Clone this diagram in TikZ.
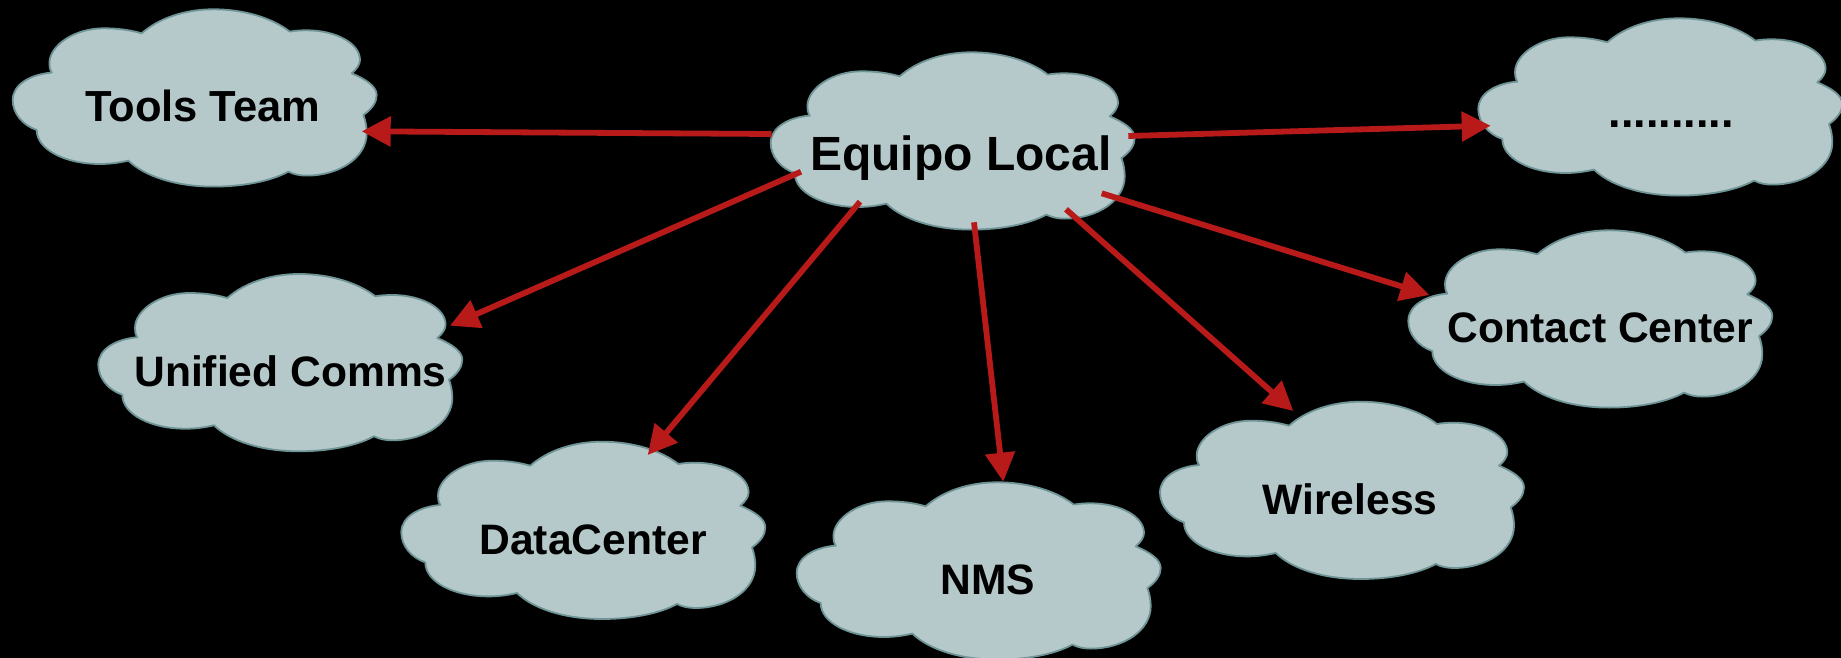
\documentclass[tikz,border=0pt]{standalone}
\usepackage{fontspec}
\setmainfont{Liberation Sans}
\usetikzlibrary{arrows.meta}
\definecolor{cloudfill}{HTML}{B5C8CA}
\definecolor{cloudline}{HTML}{6F9496}
\definecolor{linkred}{HTML}{B81A1A}
\tikzset{
  x=1pt,y=-1pt,
  cloudbody/.style={fill=cloudfill,draw=cloudline,line width=1.8pt,line join=round},
  labelbase/.style={anchor=base,inner sep=0pt,text=black},
  label42/.style={labelbase,font=\bfseries\fontsize{42.6}{50}\selectfont},
  label44/.style={labelbase,font=\bfseries\fontsize{43.5}{50}\selectfont},
  label48/.style={labelbase,font=\bfseries\fontsize{48}{56}\selectfont},
  label45/.style={labelbase,font=\bfseries\fontsize{45}{54}\selectfont},
  link/.style={draw=linkred,line width=5.8pt,-{Triangle[length=29pt,width=29pt,fill=linkred]}},
  cloud/.pic={
    \path[cloudbody] (129,24)
      .. controls (146,9) and (172,0) .. (200.7,0)
      .. controls (232,0) and (260,9) .. (277,22.3)
      .. controls (283,21.3) and (288,21) .. (294,21)
      .. controls (323,21) and (347.3,34) .. (347.3,50.7)
      .. controls (347.3,55) and (344,60) .. (339,64)
      .. controls (353,70) and (364,77) .. (364,85.7)
      .. controls (364,93) and (359,100) .. (350.7,105.7)
      .. controls (353,112) and (354,118) .. (354,124)
      .. controls (354,148) and (327,166.3) .. (294,166.3)
      .. controls (287,166.3) and (281,165) .. (275.7,162.3)
      .. controls (258,172) and (230,177.3) .. (200.7,177.3)
      .. controls (163,177.3) and (132,167) .. (115.7,151.3)
      .. controls (106,153.5) and (97,154.7) .. (87.3,154.7)
      .. controls (52,154.7) and (24,140) .. (24,120.7)
      .. controls (10,116) and (0,104) .. (0,90.7)
      .. controls (0,75) and (18,65) .. (39,63.3)
      .. controls (37,60) and (36.7,57) .. (36.7,54)
      .. controls (36.7,36) and (62,19) .. (90.7,19)
      .. controls (104,19) and (117,20.5) .. (129,24)
      -- cycle;
  }
}
\begin{document}
\begin{tikzpicture}
\clip (0,0) rectangle (1841,658);
\fill[black] (0,0) rectangle (1841,658);

\pic at (12.7,9.3) {cloud};
\pic at (770.7,52.3) {cloud};
\pic at (1478.3,18.3) {cloud};
\pic at (1408.3,230.3) {cloud};
\pic at (98.3,274) {cloud};
\pic at (401.3,441.7) {cloud};
\pic at (796.7,482.3) {cloud};
\pic at (1160,401.7) {cloud};

\node[label44] (tools) at (202.7,122) {Tools Team};
\node[label48] (equipo) at (960.8,170) {Equipo Local};
\node[label45] (dots) at (1671,127.5) {..........};
\node[label42] (contact) at (1600.5,342.5) {Contact Center};
\node[label42] (unified) at (290.5,386.7) {Unified Comms};
\node[label42] (datacenter) at (593,554.5) {DataCenter};
\node[label42] (nms) at (987.8,594) {NMS};
\node[label42] (wireless) at (1350,514) {Wireless};

\coordinate (eqToTools) at (771.7,134);
\coordinate (eqToDots) at (1128.3,136);
\coordinate (eqToContact) at (1101.7,193.3);
\coordinate (eqToWireless) at (1066,209.3);
\coordinate (eqToNms) at (974,222.3);
\coordinate (eqToData) at (860,201.7);
\coordinate (eqToUnified) at (801,171.7);
\coordinate (toolsIn) at (361.7,131.3);
\coordinate (dotsIn) at (1490.7,125.7);
\coordinate (contactIn) at (1429.3,295);
\coordinate (wirelessIn) at (1293.3,411);
\coordinate (nmsIn) at (1003.3,481.7);
\coordinate (dataIn) at (647.7,455);
\coordinate (unifiedIn) at (450,325.7);

\draw[link] (eqToTools) -- (toolsIn);
\draw[link] (eqToDots) -- (dotsIn);
\draw[link] (eqToContact) -- (contactIn);
\draw[link] (eqToWireless) -- (wirelessIn);
\draw[link] (eqToNms) -- (nmsIn);
\draw[link] (eqToData) -- (dataIn);
\draw[link] (eqToUnified) -- (unifiedIn);
\end{tikzpicture}
\end{document}
